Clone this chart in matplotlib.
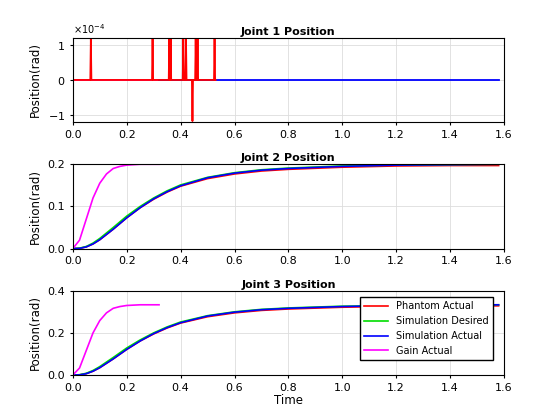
import matplotlib.pyplot as plt
import numpy as np

# Joint 1: spikes of phantom actual
spike_t = [0.067, 0.296, 0.358, 0.363, 0.41, 0.42, 0.456, 0.463, 0.526]
neg_t = [0.444]
spike_h = 1.17e-4

# Joint 2 curves (rad)
t_sim = [0, 0.025, 0.05, 0.075, 0.1, 0.15, 0.2, 0.25, 0.3, 0.35, 0.4, 0.5, 0.6, 0.7, 0.8, 1.0, 1.2, 1.4, 1.58]
j2_des = [0, 0.001, 0.005, 0.013, 0.024, 0.05, 0.077, 0.1, 0.12, 0.137, 0.151, 0.169, 0.18, 0.187, 0.191, 0.196, 0.198, 0.199, 0.2]
j2_act = [0, 0.0005, 0.004, 0.011, 0.021, 0.046, 0.073, 0.097, 0.118, 0.135, 0.149, 0.168, 0.179, 0.186, 0.19, 0.195, 0.198, 0.199, 0.2]
j2_ph = [0, 0.0005, 0.004, 0.011, 0.021, 0.046, 0.073, 0.097, 0.117, 0.134, 0.148, 0.166, 0.177, 0.184, 0.188, 0.193, 0.196, 0.197, 0.197]
t_gain = [0, 0.025, 0.05, 0.075, 0.1, 0.125, 0.15, 0.175, 0.2, 0.25, 0.32]
j2_gain = [0, 0.02, 0.07, 0.12, 0.155, 0.177, 0.19, 0.195, 0.198, 0.2, 0.2]
j3_scale = 1.667

fig, axes = plt.subplots(3, 1, figsize=(5.6, 4.2), dpi=100)
for ax in axes:
    ax.set_xlim(0, 1.6)
    ax.grid(True, color='#dddddd', lw=0.6)
    ax.tick_params(labelsize=8, length=2)
    ax.set_xticks(np.arange(0, 1.61, 0.2))

ax = axes[0]
tt = [0]
yy = [0]
for t in sorted(spike_t + neg_t):
    h = -spike_h if t in neg_t else spike_h
    tt += [t - 0.002, t, t + 0.002]
    yy += [0, h, 0]
tt.append(0.53)
yy.append(0)
ax.plot([0, 0.32], [0, 0], color='magenta', lw=1.3)
ax.plot([0.32, 1.58], [0, 0], color='blue', lw=1.3)
ax.plot(tt, yy, color='red', lw=1.3)
ax.set_ylim(-1.2e-4, 1.2e-4)
ax.set_yticks([-1e-4, 0, 1e-4])
ax.ticklabel_format(axis='y', style='sci', scilimits=(0, 0), useMathText=True)
ax.yaxis.get_offset_text().set_fontsize(7)
ax.set_title('Joint 1 Position', fontsize=8, fontweight='bold', pad=2)
ax.set_ylabel('Position(rad)', fontsize=8.5)

for ax, s, name, top, ticks in [(axes[1], 1.0, 'Joint 2 Position', 0.2, [0, 0.1, 0.2]),
                                (axes[2], j3_scale, 'Joint 3 Position', 0.4, [0, 0.2, 0.4])]:
    ax.plot(t_sim, np.array(j2_ph) * s, color='red', lw=1.2, label='Phantom Actual')
    ax.plot(t_sim, np.array(j2_des) * s, color='#00dd00', lw=1.2, label='Simulation Desired')
    ax.plot(t_sim, np.array(j2_act) * s, color='blue', lw=1.2, label='Simulation Actual')
    ax.plot(t_gain, np.array(j2_gain) * s, color='magenta', lw=1.2, label='Gain Actual')
    ax.set_ylim(0, top)
    ax.set_yticks(ticks)
    ax.set_title(name, fontsize=8, fontweight='bold', pad=2)
    ax.set_ylabel('Position(rad)', fontsize=8.5)

axes[2].set_xlabel('Time', fontsize=8.5, labelpad=1)
axes[2].legend(fontsize=7, loc='upper right', bbox_to_anchor=(0.985, 0.98),
               fancybox=False, framealpha=1, edgecolor='black', handlelength=2.5)
plt.subplots_adjust(left=0.13, right=0.9, top=0.91, bottom=0.107, hspace=0.5)
plt.savefig('out.png')
